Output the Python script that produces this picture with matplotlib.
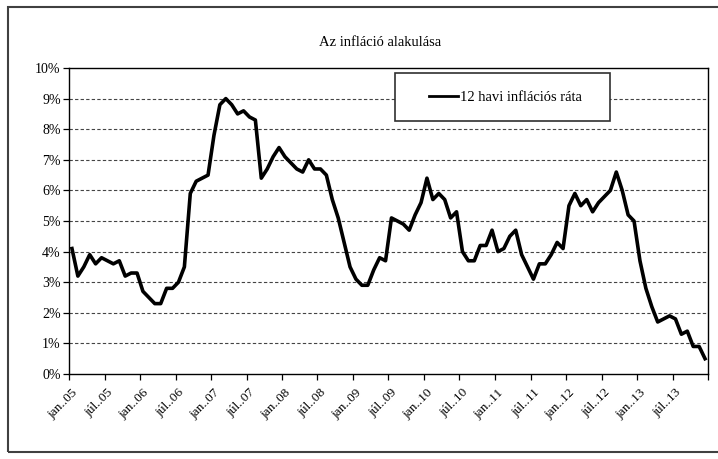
import matplotlib
matplotlib.use("Agg")
import matplotlib.pyplot as plt
from matplotlib.patches import Rectangle
from matplotlib.transforms import ScaledTranslation
import numpy as np

# 12-month inflation rate (%), monthly Jan 2005 .. Dec 2013
years = ["05", "06", "07", "08", "09", "10", "11", "12", "13"]
infl_2005 = [4.1, 3.2, 3.5, 3.9, 3.6, 3.8, 3.7, 3.6, 3.7, 3.2, 3.3, 3.3]
infl_2006 = [2.7, 2.5, 2.3, 2.3, 2.8, 2.8, 3.0, 3.5, 5.9, 6.3, 6.4, 6.5]
infl_2007 = [7.8, 8.8, 9.0, 8.8, 8.5, 8.6, 8.4, 8.3, 6.4, 6.7, 7.1, 7.4]
infl_2008 = [7.1, 6.9, 6.7, 6.6, 7.0, 6.7, 6.7, 6.5, 5.7, 5.1, 4.3, 3.5]
infl_2009 = [3.1, 2.9, 2.9, 3.4, 3.8, 3.7, 5.1, 5.0, 4.9, 4.7, 5.2, 5.6]
infl_2010 = [6.4, 5.7, 5.9, 5.7, 5.1, 5.3, 4.0, 3.7, 3.7, 4.2, 4.2, 4.7]
infl_2011 = [4.0, 4.1, 4.5, 4.7, 3.9, 3.5, 3.1, 3.6, 3.6, 3.9, 4.3, 4.1]
infl_2012 = [5.5, 5.9, 5.5, 5.7, 5.3, 5.6, 5.8, 6.0, 6.6, 6.0, 5.2, 5.0]
infl_2013 = [3.7, 2.8, 2.2, 1.7, 1.8, 1.9, 1.8, 1.3, 1.4, 0.9, 0.9, 0.5]

series_label = "12 havi inflációs ráta"
title = "Az infláció alakulása"
y_ticks = [0, 1, 2, 3, 4, 5, 6, 7, 8, 9, 10]

values = (infl_2005 + infl_2006 + infl_2007 + infl_2008 + infl_2009 +
          infl_2010 + infl_2011 + infl_2012 + infl_2013)
x_labels = []
for y in years:
    x_labels += ["jan.." + y, "júl.." + y]

serif = ["Liberation Serif", "DejaVu Serif"]
plt.rcParams["font.family"] = serif

W, H = 718, 459
L, R, T, B = 69, 708, 68, 374
fig = plt.figure(figsize=(W / 100, H / 100), dpi=100)
ax = fig.add_axes([L / W, 1 - B / H, (R - L) / W, (B - T) / H])

x = np.arange(len(values))
ax.plot(x, values, color="black", lw=2.6, label=series_label, zorder=3)

ax.set_xlim(-0.5, len(values) - 0.5)
ax.set_ylim(0, 10)
ax.set_yticks(y_ticks)
ax.set_yticklabels([f"{v}%" for v in y_ticks], fontsize=10)
for v in y_ticks[1:-1]:
    ax.axhline(v, color="#444444", lw=0.8, ls=(0, (3, 2)), zorder=1)

ax.set_xticks(np.arange(-0.5, len(values), 6))
ax.set_xticklabels([])
ax.set_xticks(np.arange(0, len(values), 6), minor=True)
ax.set_xticklabels(x_labels, minor=True, rotation=45, ha="right",
                   rotation_mode="anchor", fontsize=9.5)
shift = ScaledTranslation(4 / 100, 0, fig.dpi_scale_trans)
for lab in ax.get_xticklabels(minor=True):
    lab.set_transform(lab.get_transform() + shift)
ax.tick_params(axis="x", which="major", direction="out", length=4, width=0.9)
ax.tick_params(axis="x", which="minor", length=0, pad=9)
ax.tick_params(axis="y", direction="out", length=4, width=0.9, pad=2)

for s in ax.spines.values():
    s.set_color("black")
    s.set_linewidth(1.0)

# legend box
bx0, bx1, by0, by1 = 395, 610, 73, 121
ax.add_patch(Rectangle(((bx0 - L) / (R - L), (B - by1) / (B - T)),
                       (bx1 - bx0) / (R - L), (by1 - by0) / (B - T),
                       transform=ax.transAxes, facecolor="white",
                       edgecolor="#303030", lw=1.2, zorder=4))
leg = ax.legend(loc="center left",
                bbox_to_anchor=((429 - L) / (R - L), (B - (by0 + by1) / 2) / (B - T)),
                fontsize=10.5, frameon=False, borderpad=0, borderaxespad=0,
                handlelength=2.0, handletextpad=0.15)
leg.set_zorder(5)
for line in leg.get_lines():
    line.set_linewidth(2.0)

fig.text(380 / W, 1 - 42 / H, title, ha="center", va="center", fontsize=10.5)

# chart-area frame (its right edge lies outside the cropped picture)
fig.patches.append(Rectangle((8 / W, 7 / H), (740 - 8) / W, (452 - 7) / H,
                             transform=fig.transFigure, fill=False,
                             edgecolor="#404040", lw=1.5))

fig.savefig("out.png", dpi=100)
